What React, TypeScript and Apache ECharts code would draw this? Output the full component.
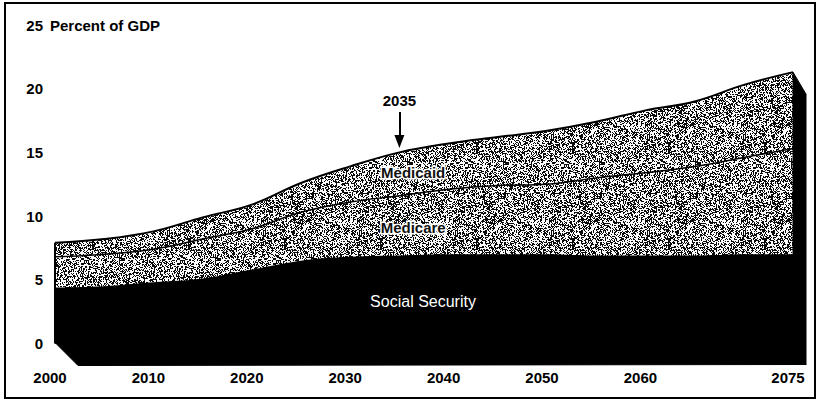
import React, { useEffect, useRef } from "react";
import * as echarts from "echarts";

const years = [2000, 2005, 2010, 2015, 2020, 2025, 2030, 2035, 2040, 2045, 2050, 2055, 2060, 2065, 2070, 2075];
const socialSecurity = [4.4, 4.5, 4.8, 5.1, 5.8, 6.5, 6.8, 6.9, 7.0, 7.0, 7.0, 6.9, 6.9, 6.9, 7.0, 7.0];
const medicare = [2.4, 2.5, 2.6, 3.1, 3.2, 3.8, 4.3, 4.7, 5.1, 5.4, 5.5, 6.1, 6.5, 7.0, 7.6, 8.3];
const medicaid = [1.1, 1.2, 1.4, 1.7, 1.9, 2.3, 2.8, 3.4, 3.6, 3.8, 4.2, 4.4, 4.9, 5.1, 5.7, 6.0];
const xTickLabels = [2000, 2010, 2020, 2030, 2040, 2050, 2060, 2075];
const yTickLabels = [0, 5, 10, 15, 20, 25];

const FONT = "'Liberation Sans', Arial, Helvetica, sans-serif";

function makeNoise(): { url: string; size: number } {
  const size = 96;
  const c = document.createElement("canvas");
  c.width = size;
  c.height = size;
  const ctx = c.getContext("2d")!;
  const img = ctx.createImageData(size, size);
  for (let y = 0; y < size; y++) {
    for (let x = 0; x < size; x++) {
      let n = (Math.imul(x, 374761393) + Math.imul(y, 668265263)) | 0;
      n = Math.imul(n ^ (n >>> 13), 1274126177);
      n = n ^ (n >>> 16);
      const h = (n >>> 0) / 4294967296;
      const v = h < 0.46 ? 10 : 252;
      const i = (y * size + x) * 4;
      img.data[i] = v;
      img.data[i + 1] = v;
      img.data[i + 2] = v;
      img.data[i + 3] = 255;
    }
  }
  ctx.putImageData(img, 0, 0);
  return { url: c.toDataURL(), size };
}

export default function App() {
  const ref = useRef<HTMLDivElement>(null);

  useEffect(() => {
    if (!ref.current) return;
    const chart = echarts.init(ref.current, undefined, { renderer: "svg" });
    const noise = makeNoise();
    const pattern: any = {
      image: noise.url,
      repeat: "repeat",
      imageWidth: noise.size,
      imageHeight: noise.size,
    };
    // cumulative tops of each layer (manual stacking: both axes are value axes)
    const ssTop = years.map((_, i) => socialSecurity[i]);
    const mcTop = years.map((_, i) => socialSecurity[i] + medicare[i]);
    const mdTop = years.map((_, i) => socialSecurity[i] + medicare[i] + medicaid[i]);
    const ssData = years.map((y, i) => [y, +ssTop[i].toFixed(2)]);
    const mcData = years.map((y, i) => [y, +mcTop[i].toFixed(2)]);
    const mdData = years.map((y, i) => [y, +mdTop[i].toFixed(2)]);
    const last = years.length - 1;

    const areaLabel = (text: string) => ({
      show: true,
      position: "inside",
      formatter: text,
      color: "#111",
      fontSize: 15,
      fontWeight: "bold",
      fontFamily: FONT,
      textBorderColor: "#fff",
      textBorderWidth: 3,
    });

    const option: any = {
      animation: false,
      backgroundColor: "#fff",
      title: {
        text: "Percent of GDP",
        left: 50,
        top: 18,
        padding: 0,
        textStyle: { fontSize: 15, fontWeight: "bold", fontFamily: FONT, color: "#000" },
      },
      graphic: [
        {
          type: "rect",
          shape: { x: 5, y: 3, width: 810, height: 395 },
          style: { fill: "none", stroke: "#000", lineWidth: 2 },
          silent: true,
        },
      ],
      grid: { left: 55, right: 25, top: 25, bottom: 57.5, containLabel: false },
      xAxis: {
        type: "value",
        min: 2000,
        max: 2075,
        interval: 5,
        axisLine: { show: false },
        axisTick: { show: false },
        splitLine: { show: false },
        axisLabel: {
          margin: 26,
          fontSize: 15,
          fontWeight: "bold",
          fontFamily: FONT,
          color: "#000",
          padding: [0, 10, 0, 0],
          formatter: (v: number) => (xTickLabels.indexOf(v) >= 0 ? String(v) : ""),
        },
      },
      yAxis: {
        type: "value",
        min: 0,
        max: 25,
        interval: 5,
        axisLine: { show: false },
        axisTick: { show: false },
        splitLine: { show: false },
        axisLabel: {
          margin: 12,
          fontSize: 15,
          fontWeight: "bold",
          fontFamily: FONT,
          color: "#000",
          formatter: (v: number) => (yTickLabels.indexOf(v) >= 0 ? String(v) : ""),
        },
      },
      series: [
        {
          name: "Medicaid",
          type: "line",
          smooth: 0.4,
          showSymbol: false,
          data: mdData,
          z: 2,
          lineStyle: { width: 2, color: "#000" },
          itemStyle: { color: "#000" },
          areaStyle: { color: pattern, opacity: 1 },
          markPoint: {
            symbol: "circle",
            symbolSize: 0,
            silent: true,
            label: areaLabel("Medicaid"),
            data: [{ coord: [2036.4, 13.4] }],
          },
          markLine: {
            silent: true,
            symbol: ["none", "triangle"],
            symbolSize: [10, 13],
            lineStyle: { color: "#000", width: 2, type: "solid" },
            label: {
              show: true,
              position: "start",
              formatter: "2035",
              distance: 4,
              color: "#000",
              fontSize: 15,
              fontWeight: "bold",
              fontFamily: FONT,
            },
            data: [[{ coord: [2035, 18.17] }, { coord: [2035, 15.85] }]],
          },
        },
        {
          name: "Medicare",
          type: "line",
          smooth: 0.4,
          showSymbol: false,
          data: mcData,
          z: 3,
          lineStyle: { width: 1.5, color: "#000" },
          itemStyle: { color: "#000" },
          areaStyle: { color: pattern, opacity: 1 },
          markPoint: {
            symbol: "circle",
            symbolSize: 0,
            silent: true,
            label: areaLabel("Medicare"),
            data: [{ coord: [2036.4, 9.14] }],
          },
        },
        {
          name: "Social Security",
          type: "line",
          smooth: 0.4,
          showSymbol: false,
          data: ssData,
          z: 4,
          lineStyle: { width: 0 },
          itemStyle: { color: "#000" },
          areaStyle: { color: "#000", opacity: 1 },
          markPoint: {
            symbol: "circle",
            symbolSize: 0,
            silent: true,
            label: {
              show: true,
              position: "inside",
              formatter: "Social Security",
              color: "#fff",
              fontSize: 16,
              fontFamily: FONT,
            },
            data: [{ coord: [2037.4, 3.26] }],
          },
        },
        {
          name: "depth",
          type: "custom",
          coordinateSystem: "cartesian2d",
          silent: true,
          clip: false,
          z: 5,
          data: [[years[0], 0]],
          renderItem: (_params: any, api: any) => {
            const bl = api.coord([years[0], 0]);
            const tl = api.coord([years[0], mdTop[0]]);
            const br = api.coord([years[last], 0]);
            const tr = api.coord([years[last], mdTop[last]]);
            return {
              type: "group",
              children: [
                {
                  type: "polygon",
                  shape: { points: [[bl[0], bl[1] - 1], [bl[0] + 23, bl[1] + 22], [br[0] + 13, br[1] + 21], [br[0], br[1] - 1]] },
                  style: { fill: "#000", stroke: "#000", lineWidth: 1 },
                },
                {
                  type: "polygon",
                  shape: { points: [tr, [tr[0] + 13, tr[1] + 22], [br[0] + 13, br[1] + 21], br] },
                  style: { fill: "#000", stroke: "#000", lineWidth: 1 },
                },
                {
                  type: "line",
                  shape: { x1: tl[0], y1: tl[1], x2: bl[0], y2: bl[1] },
                  style: { stroke: "#000", lineWidth: 2 },
                },
              ],
            };
          },
        },
      ],
    };
    chart.setOption(option);
    return () => chart.dispose();
  }, []);

  return (
    <div
      ref={ref}
      style={{ position: "absolute", left: 0, top: 0, width: 818, height: 401, background: "#fff" }}
    />
  );
}
